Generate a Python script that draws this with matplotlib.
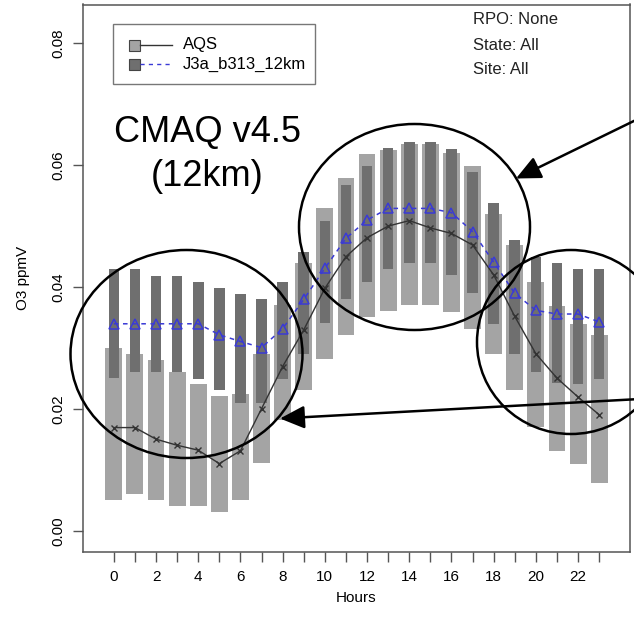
#!/usr/bin/env python3
"""Hourly O3 distribution: AQS observations vs. CMAQ J3a_b313_12km run."""
import matplotlib
matplotlib.use("Agg")
import matplotlib.pyplot as plt
from matplotlib.lines import Line2D
from matplotlib.patches import Ellipse, FancyArrowPatch, Rectangle

plt.rcParams["font.family"] = ["Liberation Sans", "DejaVu Sans"]

hours = list(range(24))

# observed (AQS) 25th / 50th / 75th percentiles, ppmV
aqs_lo = [0.0051, 0.0061, 0.0051, 0.0041, 0.0041, 0.0031, 0.0051, 0.0112,
          0.0182, 0.0232, 0.0282, 0.0321, 0.0351, 0.0361, 0.0370, 0.0370,
          0.0360, 0.0332, 0.0291, 0.0231, 0.0171, 0.0132, 0.0111, 0.0079]
aqs_med = [0.0170, 0.0170, 0.0151, 0.0141, 0.0133, 0.0111, 0.0132, 0.0201,
           0.0270, 0.0330, 0.0398, 0.0450, 0.0481, 0.0500, 0.0509, 0.0497,
           0.0488, 0.0469, 0.0420, 0.0352, 0.0291, 0.0251, 0.0220, 0.0191]
aqs_hi = [0.0300, 0.0291, 0.0280, 0.0261, 0.0241, 0.0221, 0.0225, 0.0291,
          0.0370, 0.0440, 0.0529, 0.0578, 0.0618, 0.0625, 0.0635, 0.0635,
          0.0619, 0.0598, 0.0520, 0.0469, 0.0409, 0.0369, 0.0339, 0.0321]

# model (J3a_b313_12km) percentiles
mod_lo = [0.0252, 0.0261, 0.0261, 0.0261, 0.0250, 0.0231, 0.0210, 0.0211,
          0.0250, 0.0291, 0.0341, 0.0380, 0.0409, 0.0429, 0.0439, 0.0439,
          0.0420, 0.0390, 0.0340, 0.0291, 0.0261, 0.0243, 0.0241, 0.0250]
mod_med = [0.0340, 0.0340, 0.0340, 0.0340, 0.0340, 0.0322, 0.0311, 0.0301,
           0.0332, 0.0380, 0.0431, 0.0480, 0.0510, 0.0529, 0.0529, 0.0529,
           0.0522, 0.0491, 0.0441, 0.0390, 0.0362, 0.0356, 0.0356, 0.0343]
mod_hi = [0.0429, 0.0429, 0.0418, 0.0418, 0.0408, 0.0399, 0.0389, 0.0380,
          0.0409, 0.0458, 0.0509, 0.0567, 0.0598, 0.0628, 0.0638, 0.0638,
          0.0627, 0.0589, 0.0538, 0.0478, 0.0449, 0.0439, 0.0429, 0.0429]

y_ticks = [0.00, 0.02, 0.04, 0.06, 0.08]
info_lines = ["RPO: None", "State: All", "Site: All"]
series_names = ["AQS", "J3a_b313_12km"]

LIGHT = "#a4a4a4"
DARK = "#6f6f6f"
BLUE = "#3a3ad6"
AXCOL = "#555555"

W, H = 634, 618
fig = plt.figure(figsize=(W / 100, H / 100), dpi=100)


def fx(px):
    return px / W


def fy(py):
    return 1 - py / H


ax = fig.add_axes([fx(83), fy(551.5), fx(630) - fx(83), fy(4.5) - fy(551.5)])

ax.bar(hours, [h - l for h, l in zip(aqs_hi, aqs_lo)], bottom=aqs_lo,
       width=0.8, color=LIGHT, linewidth=0, zorder=2)
ax.bar(hours, [h - l for h, l in zip(mod_hi, mod_lo)], bottom=mod_lo,
       width=0.5, color=DARK, linewidth=0, zorder=3)
ax.plot(hours, aqs_med, color="#333333", lw=1.0, marker="x", ms=5, mew=1.0, zorder=4)
ax.plot(hours, mod_med, color=BLUE, lw=1.1, ls=(0, (3, 3)), marker="^", ms=6.5,
        mfc="none", mec=BLUE, mew=1.1, zorder=5)

ax.set_xlim(-1.46, 24.46)
ax.set_ylim(-0.0033, 0.0863)
ax.set_xticks(hours)
ax.set_xticklabels([str(h) if h % 2 == 0 else "" for h in hours], fontsize=11)
ax.set_yticks(y_ticks)
ax.set_yticklabels([f"{v:.2f}" for v in y_ticks], rotation=90, va="center", fontsize=11)
ax.tick_params(length=7, width=1, color=AXCOL, pad=6)
for s in ax.spines.values():
    s.set_color(AXCOL)
    s.set_linewidth(1.1)
ax.set_xlabel("Hours", fontsize=11, labelpad=5)
ax.set_ylabel("O3 ppmV", fontsize=11, labelpad=15)

# legend box drawn R-style: filled square followed by the median line
fig.add_artist(Rectangle((fx(113), fy(84)), fx(315) - fx(113), fy(24) - fy(84),
                         transform=fig.transFigure, fill=False, ec="#777777", lw=1))
for yy, fc, ls, lc, name in [(45, LIGHT, "-", "#333333", series_names[0]),
                             (64, DARK, (0, (3, 3)), BLUE, series_names[1])]:
    fig.add_artist(Line2D([fx(140), fx(172)], [fy(yy), fy(yy)], transform=fig.transFigure,
                          color=lc, ls=ls, lw=1))
    fig.add_artist(Rectangle((fx(129), fy(yy + 5.5)), fx(11), 11 / H, transform=fig.transFigure,
                             fc=fc, ec="#444444", lw=0.8))
    fig.text(fx(183), fy(yy), name, fontsize=12, va="center", ha="left")

for i, line in enumerate(info_lines):
    fig.text(fx(473), fy(20 + 25 * i), line, fontsize=12, va="center", ha="left", color="#222222")

fig.text(fx(207), fy(142), "CMAQ v4.5", fontsize=26, ha="center", va="baseline")
fig.text(fx(207), fy(186), "(12km)", fontsize=26, ha="center", va="baseline")

# highlight circles and arrows
for cx, cy, rx, ry in [(186.5, 354, 116, 104), (414.5, 227, 115.5, 103), (571, 342, 94, 92)]:
    fig.add_artist(Ellipse((fx(cx), fy(cy)), 2 * rx / W, 2 * ry / H, transform=fig.transFigure,
                           fill=False, ec="black", lw=1.8))
for (x0, y0), (x1, y1) in [((640, 118), (516, 178.5)), ((640, 399), (280, 418.5))]:
    fig.add_artist(FancyArrowPatch((fx(x0), fy(y0)), (fx(x1), fy(y1)), transform=fig.transFigure,
                                   arrowstyle="-|>,head_length=0.75,head_width=0.35",
                                   mutation_scale=20, lw=1.8, color="black",
                                   shrinkA=0, shrinkB=0))

fig.savefig("out.png", dpi=100)
